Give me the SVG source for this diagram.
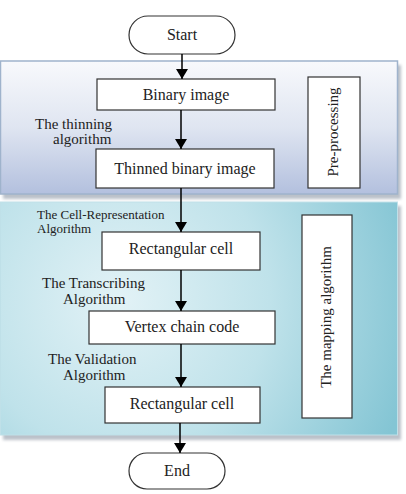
<svg xmlns="http://www.w3.org/2000/svg" width="406" height="494" viewBox="0 0 406 494" font-family="'Liberation Serif', 'Times New Roman', serif">
<defs>
<linearGradient id="g1" x1="0" y1="0" x2="0" y2="1">
<stop offset="0" stop-color="#f8f9fc"/>
<stop offset="0.5" stop-color="#dfe5f1"/>
<stop offset="1" stop-color="#b3c0de"/>
</linearGradient>
<radialGradient id="g2" cx="120" cy="300" r="300" gradientUnits="userSpaceOnUse">
<stop offset="0" stop-color="#e2f2f6"/>
<stop offset="0.5" stop-color="#bfe2ea"/>
<stop offset="1" stop-color="#84c5d4"/>
</radialGradient>
<filter id="sh" x="-5%" y="-5%" width="110%" height="115%">
<feGaussianBlur stdDeviation="1.5"/>
</filter>
<marker id="ah" viewBox="0 0 10 12" refX="10" refY="6" markerWidth="10" markerHeight="12" markerUnits="userSpaceOnUse" orient="auto">
<path d="M0,0 L10,6 L0,12 Z" fill="#000"/>
</marker>
</defs>
<style>
.node{fill:#fff;stroke:#333;stroke-width:1.2}
.t{font-family:'Liberation Serif','Times New Roman',serif;font-size:16px;fill:#222;text-anchor:middle}
.lbl{font-family:'Liberation Serif','Times New Roman',serif;font-size:15px;fill:#222}
.sm{font-family:'Liberation Serif','Times New Roman',serif;font-size:13px;fill:#222}
.edge{stroke:#000;stroke-width:1.5;fill:none;marker-end:url(#ah)}
</style>
<g id="panel-preprocessing">
<rect x="3" y="65" width="398" height="134" fill="#8f98a6" opacity="0.6" filter="url(#sh)"/>
<rect x="0.5" y="61" width="397" height="133" fill="url(#g1)" stroke="#9fb3cc" stroke-width="1.5"/>
</g>
<g id="panel-mapping">
<rect x="3" y="206" width="398" height="234" fill="#8f98a6" opacity="0.6" filter="url(#sh)"/>
<rect x="0.5" y="202" width="397" height="233" fill="url(#g2)" stroke="#bfe0e8" stroke-width="1"/>
</g>
<g id="start">
<rect x="129" y="16" width="106" height="38" rx="19" ry="19" class="node"/>
<text x="182" y="40" class="t">Start</text>
</g>
<g id="binary-image">
<rect x="97" y="79" width="178" height="31" class="node"/>
<text x="186" y="100" class="t">Binary image</text>
</g>
<g id="thinned-binary-image">
<rect x="96" y="149" width="178" height="39" class="node"/>
<text x="185" y="174" class="t">Thinned binary image</text>
</g>
<g id="pre-processing">
<rect x="308" y="77" width="52" height="111" class="node"/>
<text transform="translate(338,132) rotate(-90)" class="lbl" text-anchor="middle">Pre-processing</text>
</g>
<g id="rectangular-cell-1">
<rect x="102" y="232" width="158" height="38" class="node"/>
<text x="181" y="254" class="t">Rectangular cell</text>
</g>
<g id="vertex-chain-code">
<rect x="89" y="311" width="186" height="33" class="node"/>
<text x="182" y="332" class="t">Vertex chain code</text>
</g>
<g id="rectangular-cell-2">
<rect x="105" y="387" width="155" height="36" class="node"/>
<text x="182" y="409" class="t">Rectangular cell</text>
</g>
<g id="mapping-algorithm">
<rect x="302" y="215" width="50" height="203" class="node"/>
<text transform="translate(331,317) rotate(-90)" class="lbl" text-anchor="middle">The mapping algorithm</text>
</g>
<g id="end">
<rect x="129" y="453" width="96" height="36" rx="18" ry="18" class="node"/>
<text x="177" y="476" class="t">End</text>
</g>
<g id="edge-labels">
<text x="35" y="129" class="lbl">The thinning</text>
<text x="53" y="144" class="lbl">algorithm</text>
<text x="37" y="219" class="sm">The Cell-Representation</text>
<text x="37" y="233" class="sm">Algorithm</text>
<text x="42" y="288" class="lbl">The Transcribing</text>
<text x="63" y="304" class="lbl">Algorithm</text>
<text x="48" y="364" class="lbl">The Validation</text>
<text x="63" y="380" class="lbl">Algorithm</text>
</g>
<g id="connectors">
<line x1="182" y1="54" x2="182" y2="79" class="edge"/>
<line x1="181" y1="110" x2="181" y2="149" class="edge"/>
<line x1="181" y1="188" x2="181" y2="232" class="edge"/>
<line x1="181" y1="270" x2="181" y2="311" class="edge"/>
<line x1="181" y1="344" x2="181" y2="387" class="edge"/>
<line x1="180" y1="423" x2="180" y2="453" class="edge"/>
</g>
</svg>
